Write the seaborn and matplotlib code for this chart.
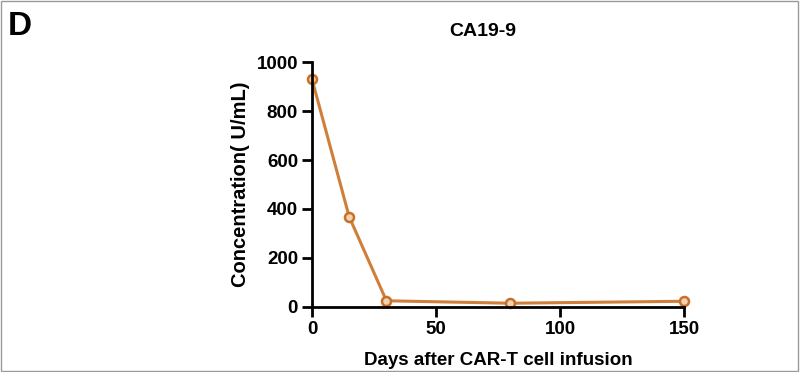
import matplotlib
matplotlib.use('Agg')
import matplotlib.pyplot as plt
import seaborn as sns
import pandas as pd

days = [0, 15, 30, 80, 150]
ca199 = [930, 368, 25, 15, 23]
x_ticks = [0, 50, 100, 150]
y_ticks = [0, 200, 400, 600, 800, 1000]

sns.set_style('ticks')
plt.rcParams['font.family'] = ['Liberation Sans', 'DejaVu Sans']
plt.rcParams['font.weight'] = 'bold'
plt.rcParams['text.color'] = 'black'
plt.rcParams['axes.labelcolor'] = 'black'
plt.rcParams['xtick.color'] = 'black'
plt.rcParams['ytick.color'] = 'black'

df = pd.DataFrame({'day': days, 'value': ca199})

fig = plt.figure(figsize=(8, 3.72), dpi=100)
ax = fig.add_axes([0.39, 0.175, 0.465, 0.658])

sns.lineplot(data=df, x='day', y='value', ax=ax, color='#cf7f3a', linewidth=2.2,
             marker='o', markersize=6.5, markerfacecolor='#f3d2b0',
             markeredgecolor='#c8702a', markeredgewidth=1.8, clip_on=False)

ax.set_xlim(0, 150)
ax.set_ylim(0, 1000)
ax.set_xticks(x_ticks)
ax.set_yticks(y_ticks)
ax.tick_params(width=2, length=7, labelsize=13.5, pad=3, color='black', labelcolor='black')
for lab in ax.get_xticklabels() + ax.get_yticklabels():
    lab.set_fontweight('bold')
sns.despine(ax=ax)
for side in ['left', 'bottom']:
    ax.spines[side].set_linewidth(2)
    ax.spines[side].set_color('black')

ax.set_xlabel('Days after CAR-T cell infusion', fontsize=13.5, fontweight='bold', labelpad=10)
ax.set_ylabel('Concentration( U/mL)', fontsize=14.5, fontweight='bold', labelpad=5)
ax.set_title('CA19-9', fontsize=14, fontweight='bold', pad=19, x=0.46)

fig.text(0.01, 0.905, 'D', fontsize=24, fontweight='bold')

# thin frame round the panel
fig.patches.append(plt.Rectangle((0.001, 0.003), 0.996, 0.994, transform=fig.transFigure,
                                 fill=False, edgecolor='#9a9a9a', linewidth=1))

fig.savefig('out.png', dpi=100)
plt.close(fig)
